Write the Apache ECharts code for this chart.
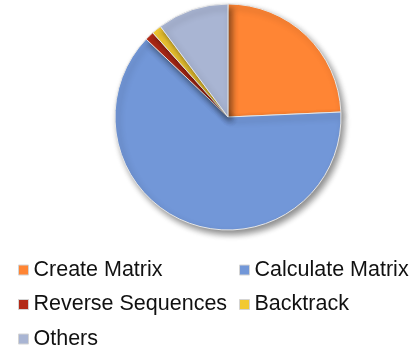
<!DOCTYPE html>
<html>
<head>
<meta charset="utf-8">
<script src="https://cdn.jsdelivr.net/npm/echarts@6/dist/echarts.min.js"></script>
<style>
    html, body { margin: 0; padding: 0; background: #fff; }
    #chart { width: 415px; height: 351px; }
</style>
</head>
<body>
<div id="chart"></div>
<script>
// 数据
const categories = ['Create Matrix', 'Calculate Matrix', 'Reverse Sequences', 'Backtrack', 'Others'];
const shares = [24.3, 62.8, 1.3, 1.4, 10.2];
const colors = ['#FF8534', '#7297D8', '#B32A17', '#F2C932', '#A9B5D3'];

const legendLeft = ['Create Matrix', 'Reverse Sequences', 'Others'];
const legendRight = ['Calculate Matrix', 'Backtrack'];

document.addEventListener('DOMContentLoaded', function() {
    const chart = echarts.init(document.getElementById('chart'));

    const legendBase = {
        orient: 'vertical',
        top: 258,
        icon: 'rect',
        itemWidth: 10,
        itemHeight: 10,
        itemGap: 10.5,
        itemTextGap: 6,
        padding: 0,
        selectedMode: false,
        itemStyle: { borderColor: '#d4d4d4', borderWidth: 1 },
        textStyle: {
            fontFamily: 'Liberation Sans, Arial, sans-serif',
            fontSize: 21.5,
            lineHeight: 24,
            color: '#111'
        }
    };

    const option = {
        color: colors,
        animation: false,
        legend: [
            Object.assign({}, legendBase, { left: 18, data: legendLeft }),
            Object.assign({}, legendBase, { left: 239, data: legendRight })
        ],
        series: [
            {
                type: 'pie',
                center: [228, 117],
                radius: 113,
                startAngle: 90,
                clockwise: true,
                label: { show: false },
                labelLine: { show: false },
                itemStyle: {
                    borderColor: '#e6e6e6',
                    borderWidth: 1,
                    shadowBlur: 6,
                    shadowOffsetX: 3,
                    shadowOffsetY: 4,
                    shadowColor: 'rgba(0,0,0,0.45)'
                },
                data: categories.map(function(name, i) {
                    return { name: name, value: shares[i] };
                })
            }
        ]
    };
    chart.setOption(option);
});
</script>
</body>
</html>
